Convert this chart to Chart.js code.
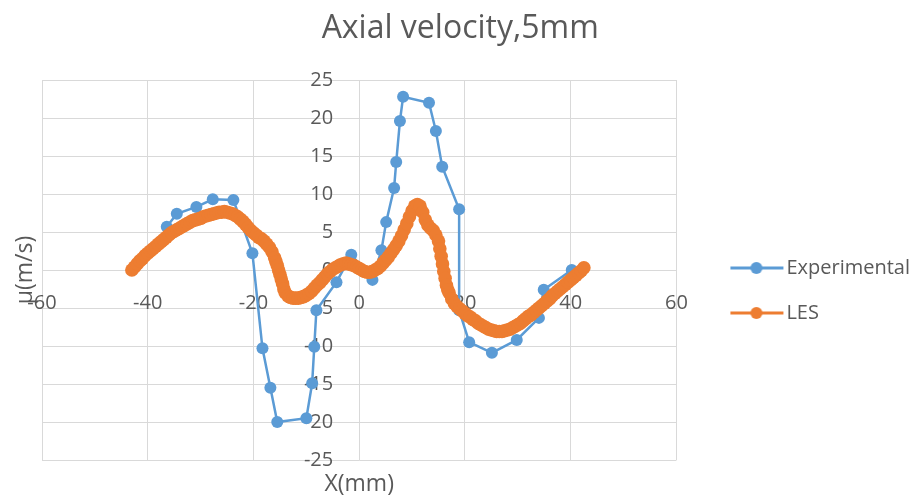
<!DOCTYPE html>
<html>
<head>
<meta charset="utf-8">
<script src="https://cdn.jsdelivr.net/npm/chart.js@4.4.1/dist/chart.umd.min.js"></script>
<style>
    html, body { margin: 0; padding: 0; background: #fff; }
</style>
</head>
<body>
<canvas id="chart" width="922" height="499"></canvas>
<script>
// ===== data =====
const expX = [-36.4, -34.5, -30.8, -27.7, -23.8, -20.2, -18.3, -16.8, -15.5, -10.0, -8.9, -8.5, -8.1,
    -4.3, -1.5, 2.5, 4.2, 5.1, 6.6, 7.0, 7.7, 8.3, 13.2, 14.5, 15.7, 18.9, 18.9, 20.8, 25.1, 29.8, 34.0, 34.9, 40.2];
const expY = [5.7, 7.4, 8.3, 9.3, 9.2, 2.2, -10.3, -15.5, -20.0, -19.5, -14.9, -10.1, -5.3,
    -1.6, 2.0, -1.3, 2.6, 6.3, 10.8, 14.2, 19.6, 22.8, 22.0, 18.3, 13.6, 8.0, -5.3, -9.5, -10.9, -9.2, -6.3, -2.6, 0.0];

const lesX = [
    -43, -42.5, -42, -41.5, -41, -40.5, -40, -39.5, -39, -38.5, -38, -37.5, -37, -36.5, -36, -35.5, -35, -34.5, -34, -33.5,
    -33, -32.5, -32, -31.5, -31, -30.5, -30, -29.5, -29, -28.5, -28, -27.5, -27, -26.5, -26, -25.5, -25, -24.5, -24, -23.5,
    -23, -22.5, -22, -21.5, -21, -20.5, -20, -19.5, -19, -18.5, -18, -17.5, -17, -16.5, -16, -15.75, -15.5, -15.25, -15, -14.75,
    -14.5, -14.25, -14, -13.5, -13, -12.5, -12, -11.5, -11, -10.5, -10, -9.5, -9, -8.5, -8, -7.5, -7, -6.5, -6, -5.5,
    -5, -4.5, -4, -3.5, -3, -2.5, -2, -1.5, -1, -0.5, 0, 0.5, 1, 1.5, 2, 2.5, 3, 3.5, 4, 4.5,
    5, 5.5, 6, 6.5, 7, 7.5, 8, 8.5, 9, 9.5, 10, 10.5, 11, 11.5, 12, 12.5, 13, 13.5, 14, 14.5,
    15, 15.25, 15.5, 15.75, 16, 16.25, 16.5, 16.75, 17, 17.5, 18, 18.5, 19, 19.5, 20, 20.5, 21, 21.5, 22, 22.5,
    23, 23.5, 24, 24.5, 25, 25.5, 26, 26.5, 27, 27.5, 28, 28.5, 29, 29.5, 30, 30.5, 31, 31.5, 32, 32.5,
    33, 33.5, 34, 34.5, 35, 35.5, 36, 36.5, 37, 37.5, 38, 38.5, 39, 39.5, 40, 40.5, 41, 41.5, 42, 42.5];
const lesY = [
    0.0, 0.4, 0.8, 1.2, 1.5, 1.9, 2.2, 2.5, 2.8, 3.1, 3.4, 3.7, 4.0, 4.3, 4.6, 4.9, 5.1, 5.3, 5.5, 5.7,
    5.9, 6.1, 6.3, 6.5, 6.6, 6.7, 6.8, 7.0, 7.1, 7.2, 7.3, 7.4, 7.5, 7.6, 7.6, 7.7, 7.6, 7.5, 7.4, 7.2,
    7.0, 6.7, 6.4, 6.0, 5.6, 5.2, 4.9, 4.6, 4.3, 4.1, 3.8, 3.4, 3.0, 2.4, 1.6, 1.1, 0.6, 0.0, -0.6, -1.2,
    -1.8, -2.5, -3.0, -3.4, -3.6, -3.7, -3.7, -3.7, -3.6, -3.5, -3.3, -3.1, -2.8, -2.4, -2.0, -1.7, -1.3, -0.9, -0.5, -0.2,
    0.1, 0.3, 0.5, 0.7, 0.8, 0.9, 0.8, 0.7, 0.6, 0.4, 0.2, 0.0, -0.2, -0.3, -0.3, -0.2, 0.0, 0.2, 0.5, 0.9,
    1.3, 1.7, 2.2, 2.7, 3.2, 3.8, 4.5, 5.3, 6.1, 7.0, 7.8, 8.4, 8.6, 8.4, 7.6, 6.6, 5.9, 5.5, 5.2, 4.6,
    3.8, 2.8, 1.8, 0.8, -0.2, -1.1, -2.0, -2.6, -3.0, -3.8, -4.4, -4.8, -5.1, -5.4, -5.7, -6.0, -6.2, -6.5, -6.7, -7.0,
    -7.2, -7.4, -7.6, -7.8, -7.9, -8.0, -8.1, -8.1, -8.1, -8.0, -7.9, -7.8, -7.6, -7.4, -7.2, -7.0, -6.7, -6.4, -6.1, -5.9,
    -5.6, -5.3, -5.0, -4.7, -4.4, -4.1, -3.8, -3.4, -3.1, -2.8, -2.5, -2.2, -1.9, -1.6, -1.3, -1.0, -0.7, -0.4, -0.1, 0.3];

const seriesNames = ['Experimental', 'LES'];
const xRange = [-60, 60];
const yRange = [-25, 25];

const BLUE = '#5B9BD5';
const ORANGE = '#ED7D31';
const TEXT = '#595959';
const GRID = '#D9D9D9';
const FONT = "'Open Sans', sans-serif";

function toPoints(xs, ys) {
    return xs.map((x, i) => ({ x: x, y: ys[i] }));
}

// legend symbol: line with a dot, like Excel
function legendMark(color) {
    const c = document.createElement('canvas');
    c.width = 56;
    c.height = 14;
    const g = c.getContext('2d');
    g.strokeStyle = color;
    g.lineWidth = 3;
    g.beginPath();
    g.moveTo(2, 7);
    g.lineTo(55, 7);
    g.stroke();
    g.fillStyle = color;
    g.beginPath();
    g.arc(28, 7, 6, 0, Math.PI * 2);
    g.fill();
    return c;
}
const marks = [legendMark(BLUE), legendMark(ORANGE)];

// axis titles sit at the chart edges, not next to the centred axes
const axisTitles = {
    id: 'axisTitles',
    afterDraw(chart) {
        const ctx = chart.ctx;
        ctx.save();
        ctx.fillStyle = TEXT;
        ctx.font = '23px ' + FONT;
        ctx.textAlign = 'center';
        ctx.textBaseline = 'middle';
        ctx.fillText('X(mm)', chart.scales.x.getPixelForValue(0), 484);
        ctx.translate(25, chart.scales.y.getPixelForValue(0));
        ctx.rotate(-Math.PI / 2);
        ctx.fillText('\u03bc(m/s)', 0, 0);
        ctx.restore();
    }
};

new Chart(document.getElementById('chart'), {
    type: 'scatter',
    data: {
        datasets: [{
            label: seriesNames[0],
            data: toPoints(expX, expY),
            showLine: true,
            borderColor: BLUE,
            backgroundColor: BLUE,
            borderWidth: 2.5,
            pointRadius: 6,
            pointBorderWidth: 0,
            pointBackgroundColor: BLUE,
            order: 1
        }, {
            label: seriesNames[1],
            data: toPoints(lesX, lesY),
            showLine: true,
            borderColor: ORANGE,
            backgroundColor: ORANGE,
            borderWidth: 3,
            pointRadius: 6.8,
            pointBorderWidth: 0,
            pointBackgroundColor: ORANGE,
            order: 0
        }]
    },
    options: {
        responsive: false,
        animation: false,
        layout: { padding: { left: 42, right: 2, top: 0, bottom: 39 } },
        plugins: {
            title: {
                display: true,
                // trailing spaces nudge the centred title a little left, as in the original
                text: 'Axial velocity,5mm     ',
                color: TEXT,
                font: { family: FONT, size: 32, weight: 'normal' },
                padding: { top: 10, bottom: 31.6 }
            },
            legend: {
                position: 'right',
                fullSize: false,
                maxWidth: 400,
                title: { display: true, text: '', font: { size: 12 }, padding: { top: 0, bottom: 26.6 } },
                labels: {
                    usePointStyle: true,
                    pointStyleWidth: 40,
                    padding: 25,
                    color: TEXT,
                    font: { family: FONT, size: 20 },
                    generateLabels(chart) {
                        const items = Chart.defaults.plugins.legend.labels.generateLabels(chart);
                        items.forEach(it => { it.pointStyle = marks[it.datasetIndex]; });
                        return items;
                    },
                    sort: (a, b) => a.datasetIndex - b.datasetIndex
                }
            },
            tooltip: { enabled: false }
        },
        scales: {
            x: {
                type: 'linear',
                position: { y: 0 },
                min: xRange[0],
                max: xRange[1],
                ticks: { stepSize: 20, padding: 21, color: TEXT, font: { family: FONT, size: 20 }, maxRotation: 0 },
                grid: { color: GRID, drawTicks: false },
                border: { display: false }
            },
            y: {
                type: 'linear',
                position: { x: 0 },
                min: yRange[0],
                max: yRange[1],
                ticks: {
                    stepSize: 5,
                    color: TEXT,
                    font: { family: FONT, size: 20 },
                    // labels of a centred axis get no padding, so keep a gap with spaces
                    callback: v => v + '     '
                },
                grid: { color: GRID, drawTicks: false },
                border: { display: false }
            },
            gap: {
                type: 'linear',
                position: 'right',
                display: true,
                grid: { display: false },
                border: { display: false },
                ticks: { display: false },
                afterFit(scale) { scale.width = 35; }
            }
        }
    },
    plugins: [axisTitles]
});
</script>
</body>
</html>
